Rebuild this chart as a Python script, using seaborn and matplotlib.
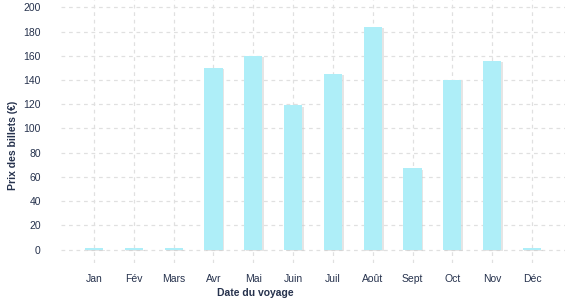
import matplotlib
matplotlib.use("Agg")
import matplotlib.pyplot as plt
import matplotlib.patheffects as pe
import seaborn as sns
import pandas as pd

months = ["Jan", "Fév", "Mars", "Avr", "Mai", "Juin", "Juil", "Août", "Sept", "Oct", "Nov", "Déc"]
prices = [1, 1, 1, 150, 160, 119, 145, 184, 67, 140, 156, 1]
yticks = [0, 20, 40, 60, 80, 100, 120, 140, 160, 180, 200]

sns.set_theme(style="white")
plt.rcParams["font.family"] = ["Liberation Sans", "DejaVu Sans"]
text_color = "#26324d"

df = pd.DataFrame({"Mois": months, "Prix": prices})

fig = plt.figure(figsize=(5.77, 3.0), dpi=100)
ax = fig.add_axes([61 / 577, 1 - 263 / 300, (565 - 61) / 577, 263 / 300])

sns.barplot(data=df, x="Mois", y="Prix", color="#aeeef8", saturation=1, width=0.46,
            linewidth=0, edgecolor="none", ax=ax, zorder=3)
for p in ax.patches:
    p.set_path_effects([pe.SimplePatchShadow(offset=(1.2, -1.0), shadow_rgbFace="#cccccc", alpha=0.5),
                        pe.Normal()])

ax.set_ylim(-11, 206)
ax.set_xlim(-0.83, 11.83)
ax.set_yticks(yticks)
ax.set_yticklabels([str(v) for v in yticks])

ax.grid(True, axis="both", color="#e0e0e0", linestyle=(0, (3, 3)), linewidth=0.9, zorder=0)
ax.set_axisbelow(True)
for s in ax.spines.values():
    s.set_visible(False)

ax.tick_params(axis="both", length=0, labelsize=7.5, labelcolor=text_color)
ax.tick_params(axis="y", pad=14.5)
ax.tick_params(axis="x", pad=8)

ax.set_xlabel("")
ax.set_ylabel("")
fig.text(13 / 577, 1 - 145 / 300, "Prix des billets (€)", rotation=90, ha="center", va="center",
         fontsize=7.5, fontweight="bold", color=text_color)
fig.text(255 / 577, 1 - 293 / 300, "Date du voyage", ha="center", va="center",
         fontsize=7.5, fontweight="bold", color=text_color)

fig.savefig("out.png", dpi=100, facecolor="white")
